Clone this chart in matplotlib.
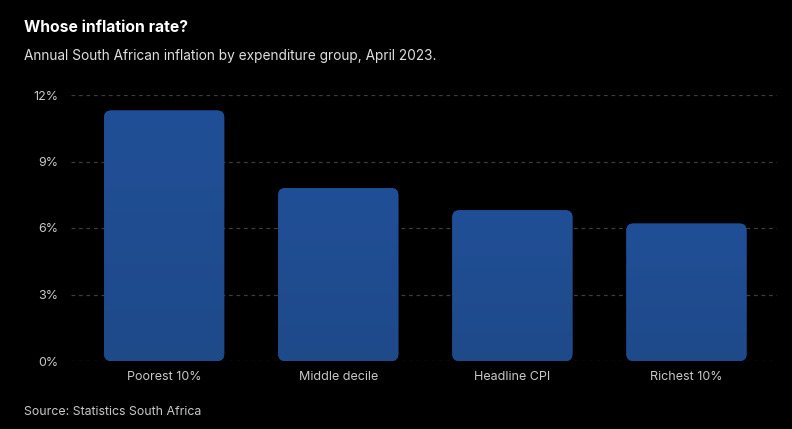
import numpy as np
import matplotlib
matplotlib.use("Agg")
import matplotlib.pyplot as plt
from matplotlib.patches import FancyBboxPatch
from matplotlib.ticker import FuncFormatter

# data
groups = ["Poorest 10%", "Middle decile", "Headline CPI", "Richest 10%"]
inflation = [11.3, 7.8, 6.8, 6.2]
yticks = [0, 3, 6, 9, 12]

title = "Whose inflation rate?"
subtitle = "Annual South African inflation by expenditure group, April 2023."
source = "Source: Statistics South Africa"

plt.rcParams['font.family'] = ['Inter', 'DejaVu Sans']

fig = plt.figure(figsize=(7.92, 4.29), dpi=100, facecolor="black")
ax = fig.add_axes([71 / 792, 1 - 361 / 429, (777 - 71) / 792, (361 - 95) / 429])
ax.set_facecolor("black")

xlim = (-0.535, 3.52)
ylim = (0, 12)
ax.set_xlim(*xlim)
ax.set_ylim(*ylim)

bar_w = 0.69
# pixels per data unit, for rounding the corners evenly
px_x = (777 - 71) / (xlim[1] - xlim[0])
px_y = (361 - 95) / (ylim[1] - ylim[0])
r = 7 / px_x
aspect = px_x / px_y

grad = np.linspace(0, 1, 256).reshape(-1, 1)
cmap = matplotlib.colors.LinearSegmentedColormap.from_list("b", ["#1e4a8a", "#214f97"])

for i, v in enumerate(inflation):
    patch = FancyBboxPatch((i - bar_w / 2, 0), bar_w, v,
                           boxstyle=f"round,pad=0,rounding_size={r}",
                           mutation_aspect=aspect,
                           facecolor="#204e94", edgecolor="none", zorder=2)
    ax.add_patch(patch)
    im = ax.imshow(grad, extent=(i - bar_w / 2, i + bar_w / 2, 0, v),
                   origin="lower", cmap=cmap, aspect="auto", zorder=3)
    im.set_clip_path(patch)

ax.set_xlim(*xlim)
ax.set_ylim(*ylim)

ax.set_yticks(yticks)
ax.yaxis.set_major_formatter(FuncFormatter(lambda y, _: f"{y:.0f}%"))
ax.set_xticks(range(len(groups)))
ax.set_xticklabels(groups)
ax.tick_params(axis="both", length=0, colors="#c8c8c8", labelsize=9)
ax.tick_params(axis="y", pad=9)
ax.tick_params(axis="x", pad=7)
for s in ax.spines.values():
    s.set_visible(False)
ax.grid(axis="y", color="#3c3c3c", linestyle=(0, (3, 3)), linewidth=0.9, zorder=0)
ax.set_axisbelow(True)

fig.text(24 / 792, 1 - 27 / 429, title, color="white", fontsize=11.3,
         fontweight="bold", va="center", ha="left")
fig.text(24 / 792, 1 - 56 / 429, subtitle, color="#dedede", fontsize=9.85,
         va="center", ha="left")
fig.text(24 / 792, 1 - 412 / 429, source, color="#c8c8c8", fontsize=8.9,
         va="center", ha="left")

fig.savefig("out.png", dpi=100, facecolor="black")
